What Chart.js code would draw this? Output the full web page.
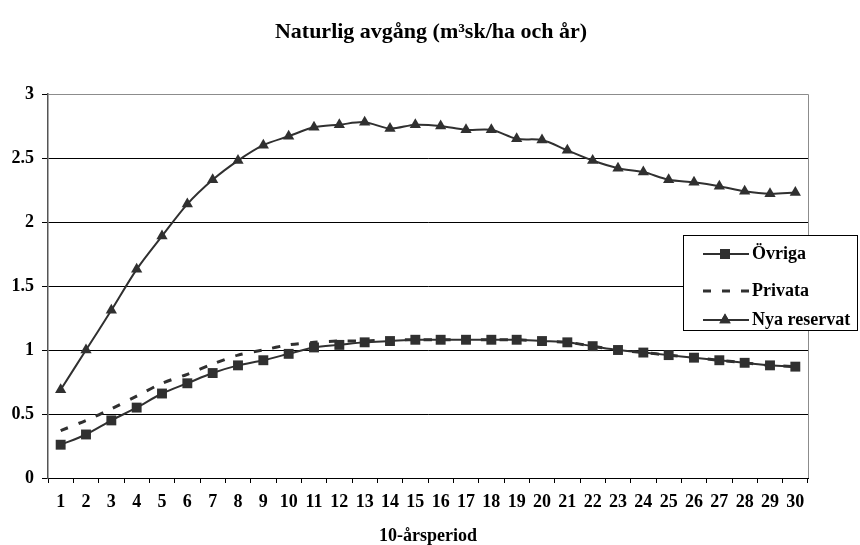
<!DOCTYPE html>
<html>
<head>
<meta charset="utf-8">
<script src="https://cdn.jsdelivr.net/npm/chart.js@4"></script>
<style>
  html, body { margin: 0; padding: 0; background: #fff; }
  #wrap { width: 860px; height: 545px; }
</style>
</head>
<body>
<div id="wrap"><canvas id="graphique"></canvas></div>
<script>
const perioder = ["1","2","3","4","5","6","7","8","9","10","11","12","13","14","15",
  "16","17","18","19","20","21","22","23","24","25","26","27","28","29","30"];

const ovriga = [0.26, 0.34, 0.45, 0.55, 0.66, 0.74, 0.82, 0.88, 0.92, 0.97,
  1.02, 1.04, 1.06, 1.07, 1.08, 1.08, 1.08, 1.08, 1.08, 1.07,
  1.06, 1.03, 1.00, 0.98, 0.96, 0.94, 0.92, 0.90, 0.88, 0.87];

const privata = [0.37, 0.45, 0.54, 0.64, 0.74, 0.81, 0.89, 0.96, 1.00, 1.04,
  1.06, 1.07, 1.07, 1.08, 1.08, 1.08, 1.08, 1.08, 1.08, 1.07,
  1.06, 1.03, 1.00, 0.98, 0.96, 0.94, 0.92, 0.90, 0.88, 0.87];

const nyaReservat = [0.69, 1.00, 1.31, 1.63, 1.89, 2.14, 2.33, 2.48, 2.60, 2.67,
  2.74, 2.76, 2.78, 2.73, 2.76, 2.75, 2.72, 2.72, 2.65, 2.64,
  2.56, 2.48, 2.42, 2.39, 2.33, 2.31, 2.28, 2.24, 2.22, 2.23];

const titel = "Naturlig avgång (m³sk/ha och år)";
const xTitel = "10-årsperiod";

const serif = "'Liberation Serif', 'Times New Roman', serif";
const mork = "#303030";

// titel, ram runt ritytan och förklaring ritas för hand
const extraRitning = {
  id: "extraRitning",
  afterDraw(chart) {
    const ctx = chart.ctx;
    const area = chart.chartArea;
    ctx.save();

    // högra och övre kanten på ritytan (grå)
    ctx.strokeStyle = "#8c8c8c";
    ctx.lineWidth = 1;
    ctx.beginPath();
    ctx.moveTo(area.left, area.top + 0.5);
    ctx.lineTo(area.right + 0.5, area.top + 0.5);
    ctx.lineTo(area.right + 0.5, area.bottom);
    ctx.stroke();

    // rubrik
    ctx.fillStyle = "#000";
    ctx.font = "bold 22px " + serif;
    ctx.textAlign = "center";
    ctx.textBaseline = "alphabetic";
    ctx.fillText(titel, 431, 38);

    // förklaring
    const bx = 683.5, by = 235.5, bw = 174, bh = 95;
    ctx.fillStyle = "#fff";
    ctx.fillRect(bx, by, bw, bh);
    ctx.strokeStyle = "#000";
    ctx.strokeRect(bx, by, bw, bh);

    const rader = [
      { text: "Övriga", y: 254, typ: "rect" },
      { text: "Privata", y: 291, typ: "dash" },
      { text: "Nya reservat", y: 320, typ: "triangle" },
    ];
    for (const r of rader) {
      ctx.strokeStyle = mork;
      ctx.fillStyle = mork;
      if (r.typ === "dash") {
        ctx.lineWidth = 3;
        ctx.setLineDash([8, 11]);
        ctx.beginPath();
        ctx.moveTo(703, r.y);
        ctx.lineTo(750, r.y);
        ctx.stroke();
        ctx.setLineDash([]);
      } else {
        ctx.lineWidth = 2;
        ctx.beginPath();
        ctx.moveTo(703, r.y);
        ctx.lineTo(749, r.y);
        ctx.stroke();
        Chart.helpers.drawPoint(ctx, {
          pointStyle: r.typ, radius: r.typ === "rect" ? 7 : 6.5, rotation: 0, borderWidth: 0,
        }, 725, r.y);
        ctx.fill();
      }
      ctx.fillStyle = "#000";
      ctx.font = "bold 18px " + serif;
      ctx.textAlign = "left";
      ctx.textBaseline = "middle";
      ctx.fillText(r.text, 752, r.y);
    }
    ctx.restore();
  },
};

const data = {
  labels: perioder,
  datasets: [
    {
      label: "Övriga",
      data: ovriga,
      borderColor: mork,
      backgroundColor: mork,
      borderWidth: 2,
      pointStyle: "rect",
      pointRadius: 7,
      pointBorderWidth: 0,
      tension: 0.3,
    },
    {
      label: "Privata",
      data: privata,
      borderColor: mork,
      borderWidth: 3,
      borderDash: [8, 11],
      pointRadius: 0,
      tension: 0.3,
    },
    {
      label: "Nya reservat",
      data: nyaReservat,
      borderColor: mork,
      backgroundColor: mork,
      borderWidth: 2,
      pointStyle: "triangle",
      pointRadius: 6.5,
      pointBorderWidth: 0,
      tension: 0.3,
    },
  ],
};

const config = {
  type: "line",
  data: data,
  options: {
    responsive: true,
    maintainAspectRatio: false,
    animation: false,
    layout: { padding: { left: 0, right: 52, top: 94, bottom: 0 } },
    plugins: {
      legend: { display: false },
      title: { display: false },
      tooltip: { enabled: false },
    },
    scales: {
      x: {
        offset: true,
        afterFit: (scale) => { scale.height = 67; },
        grid: {
          drawOnChartArea: false,
          drawTicks: true,
          tickLength: 5,
          color: "#000",
          offset: true,
        },
        border: { color: "#000", width: 1 },
        ticks: {
          color: "#000",
          font: { family: serif, size: 18, weight: "bold" },
          padding: 9,
          maxRotation: 0,
          autoSkip: false,
        },
        title: {
          display: true,
          text: xTitel,
          color: "#000",
          font: { family: serif, size: 18, weight: "bold", lineHeight: 1 },
          padding: { top: 0, bottom: 0 },
        },
      },
      y: {
        min: 0,
        max: 3,
        afterFit: (scale) => { scale.width = 48; },
        grid: {
          color: (c) => (c.tick && c.tick.value === 3 ? "#8c8c8c" : "#000"),
          tickColor: "#000",
          tickLength: 6,
          lineWidth: 1,
        },
        border: { color: "#555", width: 1.5 },
        ticks: {
          stepSize: 0.5,
          color: "#000",
          font: { family: serif, size: 18, weight: "bold" },
          padding: 8,
          callback: (v) => String(v),
        },
      },
    },
  },
  plugins: [extraRitning],
};

new Chart(document.querySelector("#graphique"), config);
</script>
</body>
</html>
